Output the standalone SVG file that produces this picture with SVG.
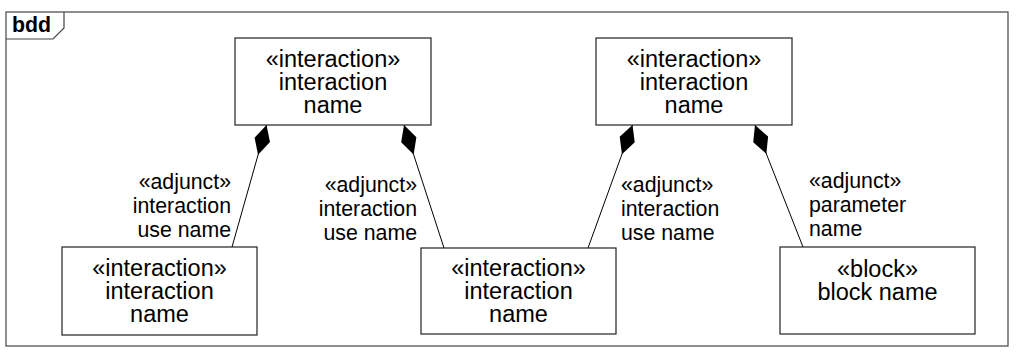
<svg xmlns="http://www.w3.org/2000/svg" width="1016" height="352" viewBox="0 0 1016 352">
<style>
  .frame{fill:none;stroke:#444;stroke-width:1.2}
  .box{fill:#fff;stroke:#222;stroke-width:1.2}
  .nt{font-family:"Liberation Sans",Arial,sans-serif;font-size:23.5px;fill:#000;text-anchor:middle}
  .lt{font-family:"Liberation Sans",Arial,sans-serif;font-size:21.3px;fill:#000}
  .title{font-family:"Liberation Sans",Arial,sans-serif;font-size:21.3px;font-weight:bold;fill:#000}
  .conn{fill:none;stroke:#000;stroke-width:1}
</style>
<defs>
  <marker id="diamond" markerUnits="userSpaceOnUse" markerWidth="34" markerHeight="20" refX="0" refY="8" viewBox="0 0 34 16" orient="auto">
    <path d="M0,8 L15.5,0 L31,8 L15.5,16 Z" fill="#000"/>
  </marker>
</defs>
<rect width="1016" height="352" fill="#fff"/>
<g id="frame">
  <rect class="frame" x="6" y="12" width="1002" height="334"/>
  <path class="frame" d="M6,39 L53,39 L64,28 L64,12"/>
  <text class="title" x="12" y="32">bdd</text>
</g>
<g id="connectors">
  <line class="conn" x1="266.5" y1="125" x2="232" y2="247" marker-start="url(#diamond)"/>
  <line class="conn" x1="404" y1="125" x2="444" y2="248" marker-start="url(#diamond)"/>
  <line class="conn" x1="632.5" y1="125" x2="588" y2="248" marker-start="url(#diamond)"/>
  <line class="conn" x1="755" y1="125" x2="803" y2="247" marker-start="url(#diamond)"/>
  <g id="label1" class="lt" text-anchor="end">
    <text class="lt" x="231" y="189" text-anchor="end">«adjunct»</text>
    <text class="lt" x="231" y="213" text-anchor="end">interaction</text>
    <text class="lt" x="231" y="237" text-anchor="end">use name</text>
  </g>
  <g id="label2">
    <text class="lt" x="417" y="192" text-anchor="end">«adjunct»</text>
    <text class="lt" x="417" y="216" text-anchor="end">interaction</text>
    <text class="lt" x="417" y="240" text-anchor="end">use name</text>
  </g>
  <g id="label3">
    <text class="lt" x="621" y="192">«adjunct»</text>
    <text class="lt" x="621" y="216">interaction</text>
    <text class="lt" x="621" y="240">use name</text>
  </g>
  <g id="label4">
    <text class="lt" x="809" y="188">«adjunct»</text>
    <text class="lt" x="809" y="212">parameter</text>
    <text class="lt" x="809" y="236">name</text>
  </g>
</g>
<g id="node-top-left">
  <rect class="box" x="235" y="38" width="196" height="87"/>
  <text class="nt" x="333" y="67">«interaction»</text>
  <text class="nt" x="333" y="90">interaction</text>
  <text class="nt" x="333" y="113">name</text>
</g>
<g id="node-top-right">
  <rect class="box" x="596" y="38" width="196" height="87"/>
  <text class="nt" x="694" y="67">«interaction»</text>
  <text class="nt" x="694" y="90">interaction</text>
  <text class="nt" x="694" y="113">name</text>
</g>
<g id="node-bottom-left">
  <rect class="box" x="62" y="247" width="195" height="88"/>
  <text class="nt" x="159.5" y="276">«interaction»</text>
  <text class="nt" x="159.5" y="299">interaction</text>
  <text class="nt" x="159.5" y="322">name</text>
</g>
<g id="node-bottom-middle">
  <rect class="box" x="421" y="248" width="195" height="86"/>
  <text class="nt" x="518.5" y="276">«interaction»</text>
  <text class="nt" x="518.5" y="299">interaction</text>
  <text class="nt" x="518.5" y="322">name</text>
</g>
<g id="node-bottom-right">
  <rect class="box" x="780" y="247" width="195" height="87"/>
  <text class="nt" x="877.5" y="277">«block»</text>
  <text class="nt" x="877.5" y="300">block name</text>
</g>
</svg>
